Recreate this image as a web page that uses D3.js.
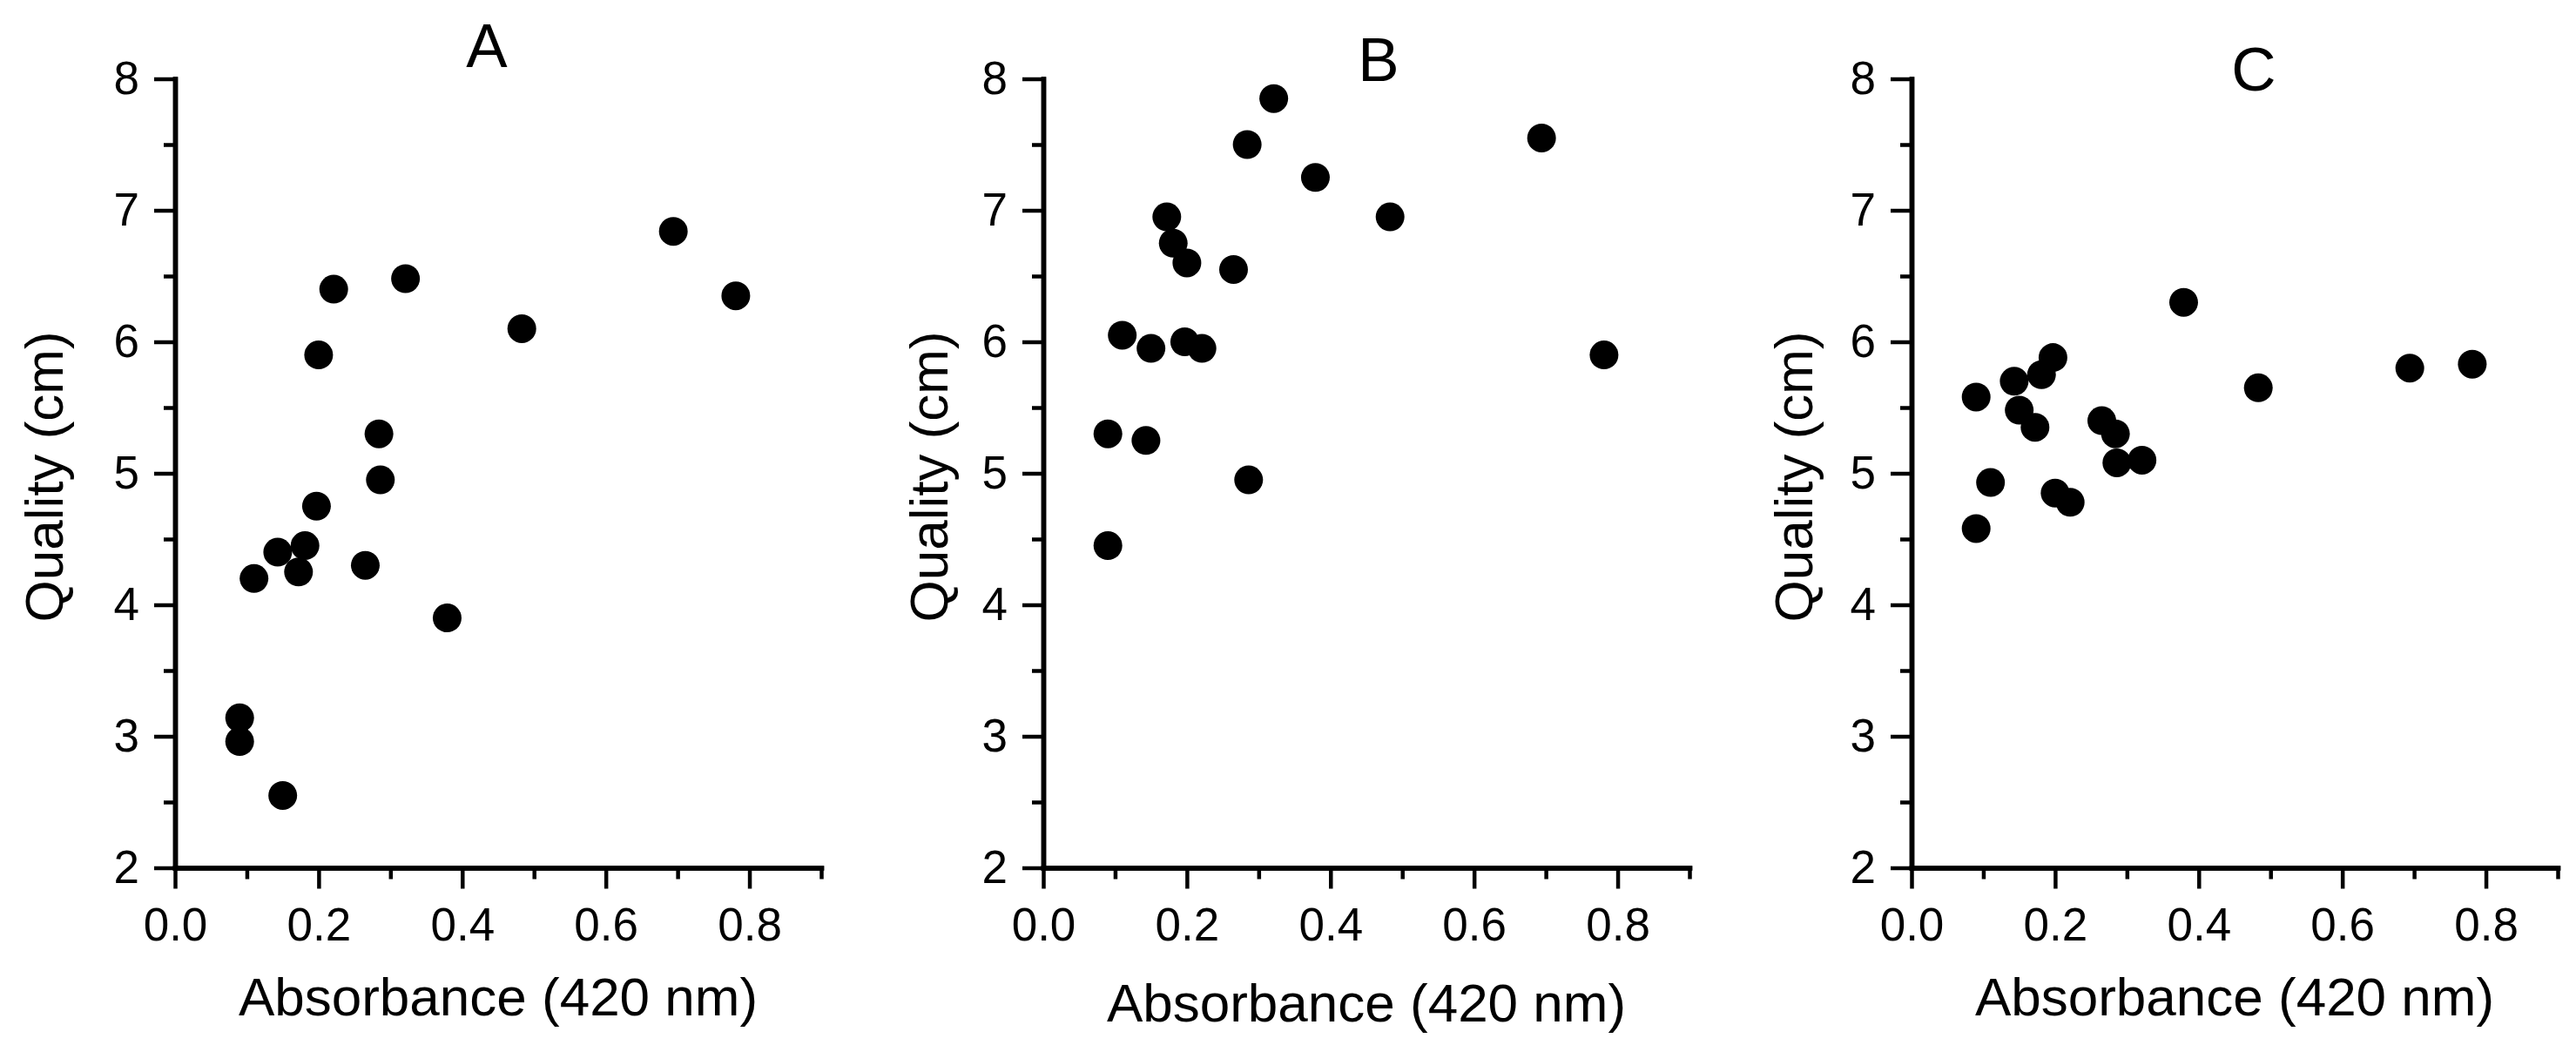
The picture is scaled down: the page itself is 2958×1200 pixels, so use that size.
<!DOCTYPE html>
<meta charset="utf-8">
<style>

body {
  margin: 0;
  background: #fff;
}

svg text {
  font-family: "Liberation Sans", Arial, sans-serif;
  fill: #000;
}

.axis .domain {
  stroke: #000;
  stroke-width: 5.5px;
  stroke-linecap: square;
}

.axis .tick line {
  stroke: #000;
  stroke-width: 4.5px;
}

.axis .tick text {
  font-size: 53px;
}

.axis-title {
  font-size: 62px;
}

.panel-title {
  font-size: 71px;
}

.dot {
  fill: #000;
}

</style>

<svg width="2958" height="1200"></svg>

<script src="https://cdnjs.cloudflare.com/ajax/libs/d3/7.8.5/d3.min.js"></script>
<script>

// same absorbance readings used in all three panels
var absorbance = [0.09, 0.09, 0.11, 0.143, 0.15, 0.172, 0.181, 0.197, 0.2, 0.221, 0.265, 0.284, 0.286, 0.321, 0.379, 0.483, 0.694, 0.781];

var qualityA = [3.14, 2.96, 4.20, 4.40, 2.55, 4.25, 4.45, 4.75, 5.90, 6.40, 4.30, 5.30, 4.95, 6.48, 3.90, 6.10, 6.84, 6.35];
var qualityB = [5.30, 4.45, 6.05, 5.25, 5.95, 6.95, 6.75, 6.00, 6.60, 5.95, 6.55, 7.50, 4.95, 7.85, 7.25, 6.95, 7.55, 5.90];
var qualityC = [5.58, 4.58, 4.93, 5.70, 5.48, 5.35, 5.75, 5.88, 4.85, 4.78, 5.40, 5.30, 5.08, 5.10, 6.30, 5.65, 5.80, 5.83];

var panelNames = ["A", "B", "C"];
var xTitle = "Absorbance (420 nm)";
var yTitle = "Quality (cm)";

var xMajor = [0, 0.2, 0.4, 0.6, 0.8];
var xMinor = [0.1, 0.3, 0.5, 0.7, 0.9];
var yMajor = [2, 3, 4, 5, 6, 7, 8];
var yMinor = [2.5, 3.5, 4.5, 5.5, 6.5, 7.5];


var svg = d3.select("svg"),
    width = 742,
    height = 906,
    top0 = 90.5;

// layout of the three panels (left edge of plot area, title spots)
var panelLeft = [201, 1198, 2195],
    titleX = [559, 1583, 2588],
    titleY = [77, 93, 104],
    xTitleY = [1166, 1173, 1166],
    yTitleX = [72, 1088, 2081];

var x = d3.scaleLinear().domain([0, 0.9]).range([0, width]),
    y = d3.scaleLinear().domain([2, 8]).range([height, 0]);

var fmtX = d3.format(".1f");

function drawPanel(i, values) {
  var g = svg.append("g")
      .attr("transform", "translate(" + panelLeft[i] + "," + top0 + ")");

  // minor ticks first, major axis on top
  g.append("g")
      .attr("class", "axis")
      .attr("transform", "translate(0," + height + ")")
      .call(d3.axisBottom(x).tickValues(xMinor).tickSize(13).tickSizeOuter(0).tickFormat(""));

  g.append("g")
      .attr("class", "axis")
      .call(d3.axisLeft(y).tickValues(yMinor).tickSize(13).tickSizeOuter(0).tickFormat(""));

  g.append("g")
      .attr("class", "axis axis--x")
      .attr("transform", "translate(0," + height + ")")
      .call(d3.axisBottom(x).tickValues(xMajor).tickSize(24).tickSizeOuter(0).tickPadding(22).tickFormat(fmtX));

  g.append("g")
      .attr("class", "axis axis--y")
      .call(d3.axisLeft(y).tickValues(yMajor).tickSize(24).tickSizeOuter(0).tickPadding(17).tickFormat(d3.format("d")));

  g.selectAll(".dot")
    .data(values)
    .enter()
      .append("circle")
      .attr("class", "dot")
      .attr("cx", function(d, j) { return x(absorbance[j]); })
      .attr("cy", function(d) { return y(d); })
      .attr("r", 16.5);

  svg.append("text")
      .attr("class", "panel-title")
      .attr("x", titleX[i])
      .attr("y", titleY[i])
      .attr("text-anchor", "middle")
      .text(panelNames[i]);

  svg.append("text")
      .attr("class", "axis-title")
      .attr("x", panelLeft[i] + width / 2)
      .attr("y", xTitleY[i])
      .attr("text-anchor", "middle")
      .text(xTitle);

  svg.append("text")
      .attr("class", "axis-title")
      .attr("transform", "translate(" + yTitleX[i] + "," + (top0 + height / 2 + 4) + ") rotate(-90)")
      .attr("text-anchor", "middle")
      .text(yTitle);
}

drawPanel(0, qualityA);
drawPanel(1, qualityB);
drawPanel(2, qualityC);

</script>
